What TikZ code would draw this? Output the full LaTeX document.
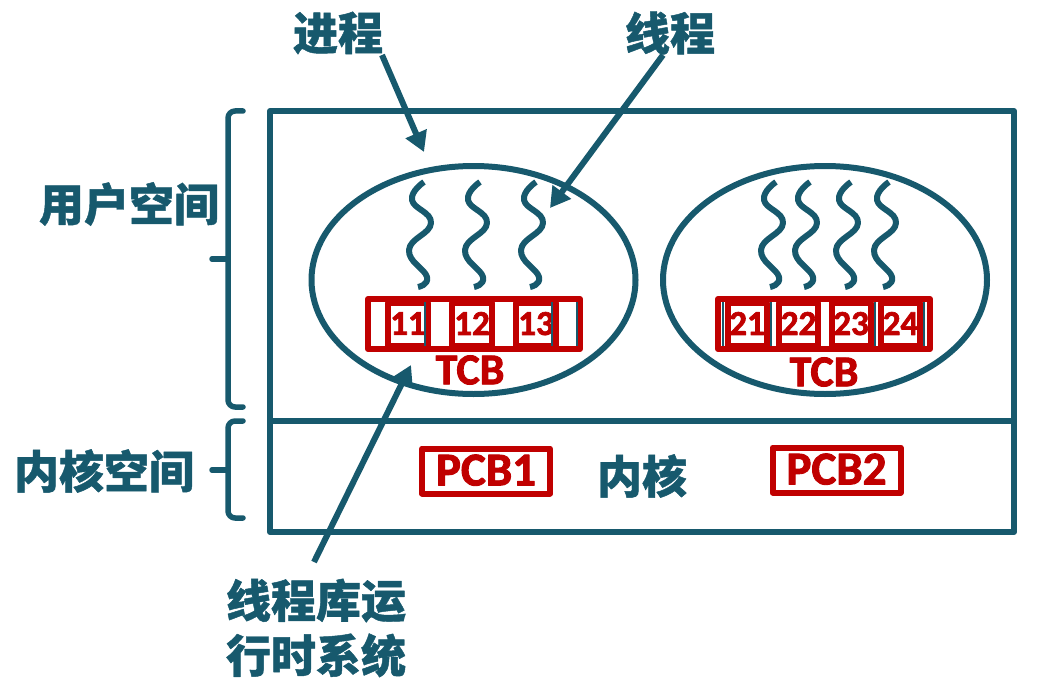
\documentclass[tikz,border=0pt]{standalone}
\usepackage{fontspec}
\setmainfont{Noto Sans CJK SC}[BoldFeatures={FakeBold=1}]
\newfontfamily\latinbold{Carlito}[BoldFeatures={FakeBold=2}]
\usetikzlibrary{arrows.meta}
\usetikzlibrary{shapes.geometric}
\definecolor{tealline}{HTML}{17596D}
\definecolor{redline}{HTML}{C00000}
\tikzset{
 label cn/.style={text=tealline, font=\fontsize{45}{50}\selectfont\bfseries, inner sep=0, align=left},
 box/.style={draw=tealline, line width=6, minimum width=744, inner sep=0},
 proc/.style={ellipse, draw=tealline, line width=6, minimum width=324, minimum height=228, inner sep=0},
 tcb/.style={draw=redline, line width=6, minimum width=212, minimum height=50, inner sep=0},
 cell/.style={draw=redline, line width=6, minimum width=40, minimum height=43, inner sep=0, text=redline, font=\latinbold\fontsize{35}{30}\selectfont\bfseries},
 redtext/.style={text=redline, inner sep=0, font=\latinbold\fontsize{44}{40}\selectfont\bfseries},
 pcb/.style={draw=redline, line width=6, minimum width=128, minimum height=45, inner sep=0, text=redline, font=\latinbold\fontsize{47}{40}\selectfont\bfseries},
 pointer/.style={draw=tealline, line width=6, -{Triangle[length=20,width=22]}},
 sidebrace/.style={draw=tealline, line width=5.5, rounded corners=7, line cap=round},
}
\begin{document}
\begin{tikzpicture}[x=1pt, y=-1pt, line join=round]
\useasboundingbox (0,0) rectangle (1046,690);
% outer boxes
\node[box, minimum height=310] (userbox) at (642,266) {};
\node[box, minimum height=111] (kernelbox) at (642,476.5) {};
% processes
\node[proc] (procA) at (473.5,280) {};
\node[proc] (procB) at (825,280) {};
% threads
\foreach \x in {424, 480, 536, 776, 810, 851, 889} {
 \draw[tealline, line width=6] plot[smooth, tension=.8] coordinates {(\x,182) (\x-12,200) (\x+7,223) (\x-15,250) (\x+3,277) (\x-6,287)};
}
% thread control blocks
\node[tcb] (tcbA) at (474,324) {};
\node[tcb] (tcbB) at (824,324) {};
\foreach \x/\n in {408/11, 472/12, 536/13} {
 \node[cell] (cell\n) at (\x,324.5) {\raisebox{2pt}{\n}};
}
\foreach \x/\n in {747/21, 798.5/22, 851/23, 900.5/24} {
 \node[cell, minimum width=39] (cell\n) at (\x,324.5) {\raisebox{2pt}{\n}};
}
\foreach \x in {425, 552, 577, 723, 771, 875, 924} {
 \draw[tealline, line width=1.2] (\x,302) --++(0,44);
}
\node[redtext] (tcbtextA) at (470,370) {TCB};
\node[redtext] (tcbtextB) at (824,372) {TCB};
% kernel contents
\node[pcb] (pcbA) at (486,471) {\raisebox{2pt}{PCB1}};
\node[pcb] (pcbB) at (836.5,470) {\raisebox{2pt}{PCB2}};
\node[label cn] (kernel) at (642,476) {内核};
% labels
\node[label cn] (proclabel) at (338,33) {进程};
\node[label cn] (threadlabel) at (670,33) {线程};
\node[label cn] (userlabel) at (129,204) {用户空间};
\node[label cn] (kernellabel) at (104,471) {内核空间};
\node[label cn] (runtimelabel) at (316,628) {线程库运\\[5pt]行时系统};
% pointers
\coordinate (procfrom) at (382,55);
\coordinate (procto) at (424,152);
\coordinate (threadfrom) at (663,55);
\coordinate (threadto) at (550,208);
\coordinate (runtimefrom) at (314,562);
\coordinate (runtimeto) at (411,365);
\draw[pointer] (procfrom) -- (procto);
\draw[pointer] (threadfrom) -- (threadto);
\draw[pointer] (runtimefrom) -- (runtimeto);
% side braces
\coordinate (usertop) at (243,111);
\coordinate (userbot) at (243,407);
\coordinate (usertip) at (212,259);
\coordinate (kerneltop) at (243,421);
\coordinate (kernelbot) at (243,518);
\coordinate (kerneltip) at (212,470);
\draw[sidebrace] (usertop) -- (228,111) -- (228,407) -- (userbot);
\draw[sidebrace] (usertip) -- (228,259);
\draw[sidebrace] (kerneltop) -- (228,421) -- (228,518) -- (kernelbot);
\draw[sidebrace] (kerneltip) -- (228,470);
\end{tikzpicture}
\end{document}
